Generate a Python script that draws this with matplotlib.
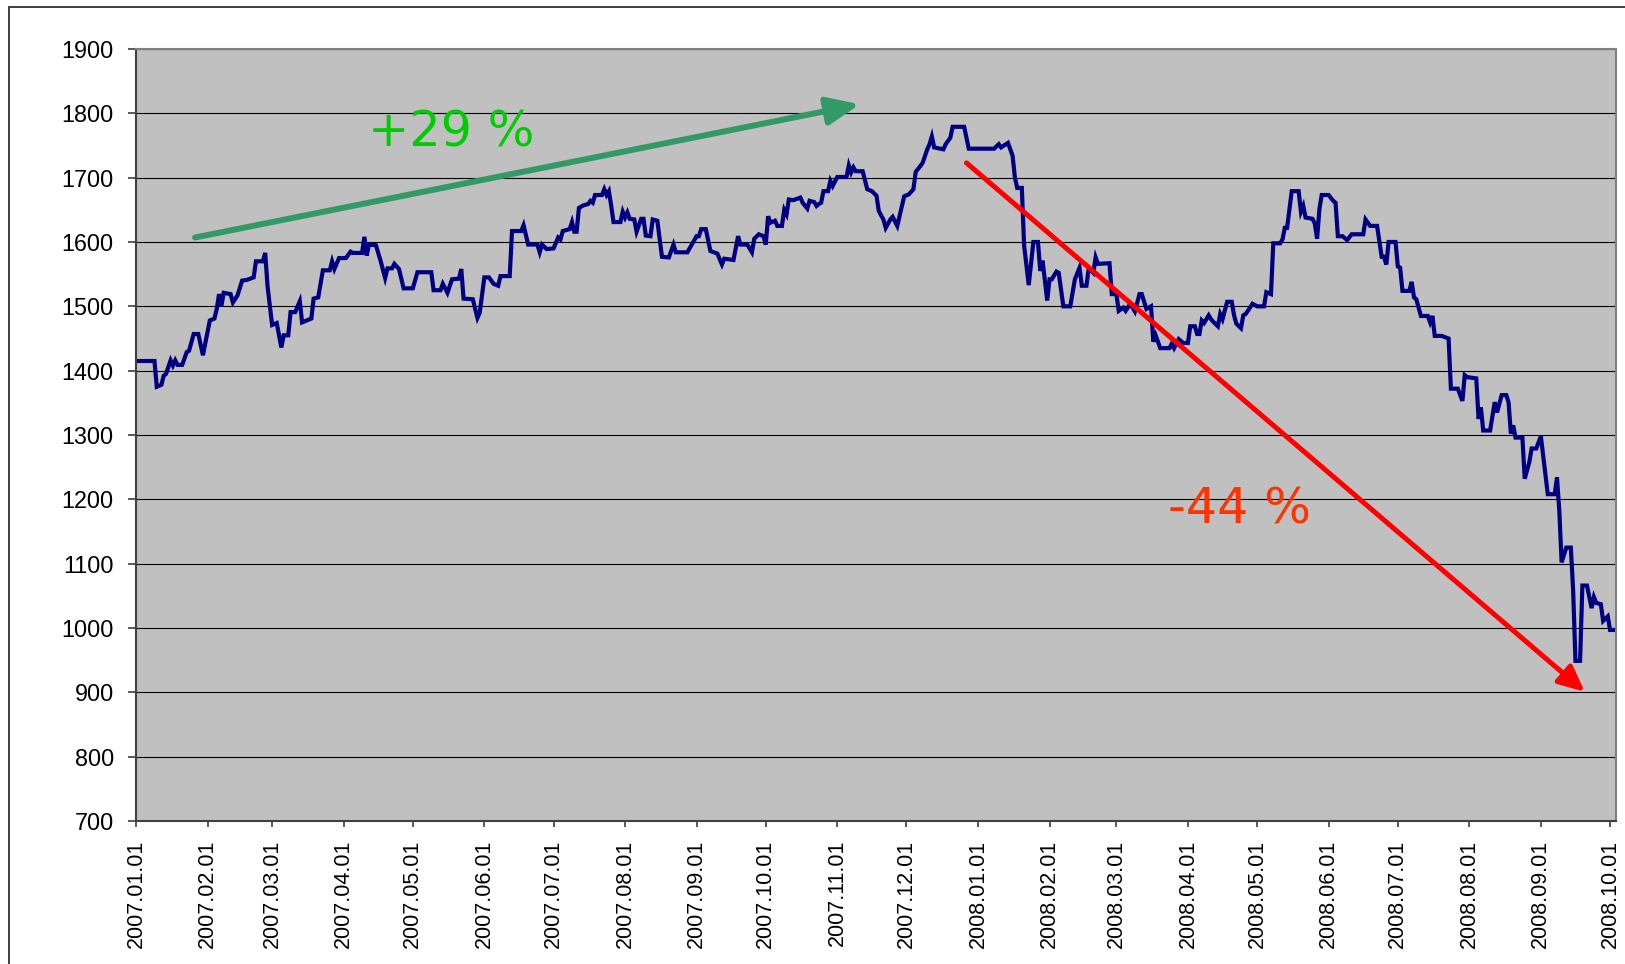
import matplotlib
matplotlib.use('Agg')
import matplotlib.pyplot as plt
import matplotlib.dates as mdates
from matplotlib.patches import Rectangle
import numpy as np

# Index values, day offsets counted from 2007-01-01
start_date = np.datetime64('2007-01-01')
days = [0, 8, 9, 11, 12, 13, 15, 16, 17, 18, 20, 22, 23, 25, 27, 29, 32, 34, 35, 36,
        37, 38, 41, 42, 44, 46, 48, 51, 52, 55, 56, 57, 59, 61, 63, 64, 66, 67, 69, 71,
        72, 76, 77, 79, 81, 84, 85, 86, 88, 91, 93, 94, 98, 99, 100, 101, 104, 106, 108, 109,
        111, 112, 114, 116, 120, 122, 128, 129, 132, 133, 135, 137, 140, 141, 142, 146, 148, 149, 151, 153,
        155, 157, 158, 162, 163, 167, 168, 170, 174, 175, 176, 178, 181, 183, 184, 185, 188, 189, 190, 191,
        192, 194, 196, 197, 198, 199, 202, 203, 204, 205, 206, 207, 210, 211, 212, 213, 214, 216, 217, 219,
        220, 221, 223, 224, 226, 228, 231, 233, 234, 239, 243, 244, 245, 247, 249, 252, 254, 255, 259, 261,
        262, 265, 267, 268, 270, 272, 273, 274, 275, 277, 278, 280, 281, 282, 283, 285, 288, 289, 291, 292,
        294, 295, 296, 297, 298, 300, 301, 302, 304, 308, 309, 310, 311, 312, 315, 317, 319, 321, 322, 324,
        325, 327, 328, 330, 332, 333, 335, 337, 338, 340, 341, 343, 344, 345, 346, 350, 351, 353, 354, 359,
        361, 372, 374, 375, 378, 380, 381, 382, 384, 385, 386, 387, 389, 391, 392, 393, 395, 396, 397, 399,
        400, 402, 405, 407, 409, 410, 412, 413, 415, 416, 417, 422, 423, 425, 426, 428, 429, 431, 433, 435,
        436, 438, 440, 441, 442, 444, 448, 449, 450, 452, 454, 456, 457, 459, 460, 461, 462, 463, 465, 466,
        467, 469, 470, 471, 473, 475, 476, 477, 479, 480, 481, 482, 484, 486, 489, 490, 492, 493, 496, 497,
        498, 499, 501, 504, 505, 506, 507, 510, 511, 512, 513, 514, 517, 519, 520, 521, 523, 525, 527, 532,
        533, 535, 538, 540, 541, 542, 543, 546, 547, 548, 549, 552, 553, 554, 555, 557, 560, 561, 562, 563,
        566, 569, 570, 573, 575, 576, 577, 581, 582, 583, 584, 587, 589, 590, 592, 594, 595, 596, 597, 598,
        601, 602, 604, 605, 607, 609, 612, 615, 616, 617, 618, 620, 622, 623, 624, 626, 627, 629, 631, 632,
        633, 635, 636, 638, 639, 641]
values = [1415, 1415, 1375, 1378, 1392, 1395, 1416, 1408, 1416, 1409, 1409, 1429, 1431, 1457, 1457, 1424, 1478, 1481, 1496, 1519,
          1500, 1521, 1519, 1506, 1517, 1540, 1541, 1545, 1570, 1570, 1583, 1532, 1471, 1474, 1436, 1455, 1455, 1491, 1491, 1508,
          1475, 1481, 1512, 1514, 1556, 1556, 1570, 1558, 1575, 1575, 1585, 1583, 1583, 1608, 1579, 1596, 1595, 1571, 1544, 1559,
          1559, 1566, 1558, 1528, 1528, 1553, 1553, 1525, 1525, 1535, 1521, 1542, 1543, 1558, 1512, 1511, 1482, 1490, 1545, 1545,
          1535, 1532, 1547, 1547, 1617, 1617, 1626, 1596, 1596, 1584, 1596, 1589, 1590, 1607, 1604, 1617, 1620, 1631, 1616, 1616,
          1653, 1657, 1659, 1664, 1661, 1673, 1673, 1682, 1673, 1679, 1656, 1631, 1631, 1647, 1638, 1646, 1636, 1635, 1616, 1636,
          1636, 1610, 1609, 1635, 1633, 1577, 1576, 1596, 1584, 1584, 1609, 1609, 1620, 1620, 1586, 1582, 1565, 1574, 1572, 1609,
          1596, 1596, 1584, 1605, 1612, 1609, 1596, 1640, 1630, 1633, 1625, 1625, 1650, 1643, 1666, 1665, 1669, 1661, 1652, 1664,
          1662, 1656, 1659, 1661, 1679, 1679, 1695, 1687, 1701, 1701, 1719, 1708, 1716, 1710, 1710, 1682, 1679, 1672, 1648, 1635,
          1622, 1635, 1639, 1625, 1656, 1671, 1674, 1682, 1709, 1718, 1723, 1744, 1752, 1764, 1747, 1744, 1752, 1762, 1779, 1779,
          1745, 1745, 1752, 1747, 1754, 1734, 1700, 1684, 1684, 1594, 1563, 1533, 1600, 1600, 1555, 1571, 1509, 1542, 1542, 1554,
          1552, 1500, 1500, 1542, 1560, 1532, 1532, 1559, 1552, 1576, 1566, 1567, 1519, 1519, 1493, 1498, 1493, 1504, 1492, 1519,
          1519, 1496, 1500, 1445, 1455, 1435, 1435, 1442, 1435, 1449, 1443, 1443, 1469, 1469, 1457, 1457, 1478, 1474, 1486, 1480,
          1476, 1469, 1488, 1480, 1507, 1507, 1486, 1473, 1466, 1486, 1488, 1493, 1504, 1500, 1500, 1522, 1519, 1598, 1598, 1604,
          1622, 1622, 1679, 1679, 1647, 1656, 1638, 1636, 1629, 1605, 1651, 1673, 1673, 1664, 1661, 1609, 1609, 1603, 1612, 1612,
          1635, 1625, 1625, 1577, 1577, 1565, 1600, 1600, 1562, 1560, 1524, 1524, 1538, 1514, 1511, 1485, 1485, 1475, 1485, 1454,
          1454, 1450, 1372, 1372, 1353, 1393, 1390, 1388, 1325, 1343, 1307, 1307, 1351, 1335, 1362, 1362, 1351, 1302, 1315, 1296,
          1296, 1232, 1258, 1279, 1279, 1298, 1208, 1208, 1234, 1182, 1102, 1125, 1125, 1058, 949, 949, 1066, 1066, 1031, 1048,
          1039, 1037, 1011, 1018, 997, 997]

y_ticks = list(range(700, 2000, 100))
up_label = '+29 %'
down_label = '-44 %'

dates = start_date + np.array(days)
base = mdates.date2num(start_date)

fig = plt.figure(figsize=(16.25, 9.64), dpi=100)
ax = fig.add_axes([0.0837, 0.1483, 0.9108, 0.8009])
ax.set_facecolor('#c0c0c0')

# outer chart border (only left and top edges are visible)
fig.patches.append(Rectangle((0.0055, -0.5), 1.5, 1.4927, transform=fig.transFigure,
                             fill=False, edgecolor='#303030', linewidth=1.3))

ax.set_axisbelow(True)
ax.yaxis.grid(True, color='black', linewidth=0.8)
ax.plot(dates, values, color='#000080', linewidth=3.0, solid_joinstyle='miter')

ax.set_ylim(700, 1900)
ax.set_yticks(y_ticks)
ax.set_xlim(base, base + 641.6)
ax.xaxis.set_major_locator(mdates.MonthLocator())
ax.xaxis.set_major_formatter(mdates.DateFormatter('%Y.%m.%d'))

for lab in ax.get_yticklabels():
    lab.set_fontfamily('Liberation Sans')
    lab.set_fontsize(16.8)
for lab in ax.get_xticklabels():
    lab.set_fontfamily('Liberation Sans')
    lab.set_fontsize(15.5)
    lab.set_rotation(90)

ax.tick_params(axis='y', direction='out', length=6, width=1.2, color='#404040', pad=10)
ax.tick_params(axis='x', direction='out', length=4.5, width=1.2, color='#404040', pad=9)

ax.spines['left'].set_color('#404040')
ax.spines['bottom'].set_color('#404040')
ax.spines['right'].set_color('#808080')
ax.spines['top'].set_color('#808080')
for s in ax.spines.values():
    s.set_linewidth(1.5)

# trend arrows
ax.annotate('', xy=(base + 313.7, 1814), xytext=(base + 25.6, 1607),
            arrowprops=dict(arrowstyle='-|>,head_length=0.7,head_width=0.3',
                            color='#339966', lw=4.3, mutation_scale=28,
                            shrinkA=0, shrinkB=0))
ax.annotate('', xy=(base + 628.0, 901), xytext=(base + 360, 1723),
            arrowprops=dict(arrowstyle='-|>,head_length=0.6,head_width=0.28',
                            color='#ff0000', lw=3.6, mutation_scale=26,
                            shrinkA=0, shrinkB=0))

ax.text(base + 100.5, 1748, up_label, color='#00cc00', fontsize=35.5,
        family='DejaVu Sans', ha='left', va='baseline')
ax.text(base + 447.5, 1163, down_label, color='#ff3300', fontsize=35.5,
        family='DejaVu Sans', ha='left', va='baseline')

fig.savefig('out.png', dpi=100, facecolor='white')
